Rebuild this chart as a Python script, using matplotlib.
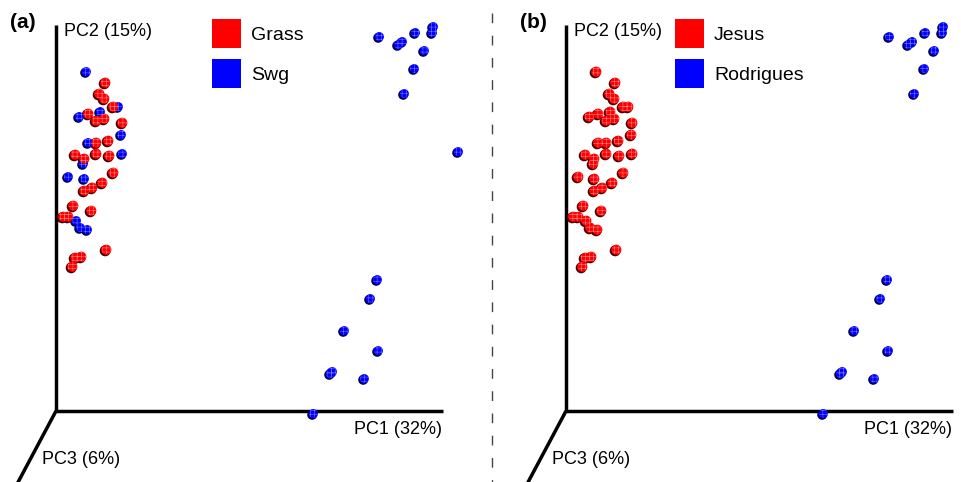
import numpy as np
import matplotlib.pyplot as plt

plt.rcParams['font.family'] = ['Liberation Sans', 'DejaVu Sans']
plt.rcParams['hatch.linewidth'] = 0.35

# projected sample positions (screen units, relative to the axes origin)
pc1 = np.array([30, 62, 44, 23, 65, 32, 66, 27, 12, 28, 20, 24, 31,
                49, 43, 48, 57, 32, 40, 48, 66, 40, 52, 19, 28, 40, 53,
                57, 46, 36, 28, 17, 35, 7, 12, 50, 19, 25, 16,
                323, 342, 346, 359, 368, 376, 377, 358, 348, 402,
                321, 314, 288, 322, 276, 274, 308, 257])
pc2 = np.array([339, 304, 299, 294, 276, 268, 257, 247, 234, 232, 190, 183, 181,
                328, 317, 312, 304, 297, 290, 292, 288, 268, 270, 256, 252, 257, 255,
                238, 228, 223, 220, 205, 200, 194, 194, 161, 153, 154, 144,
                374, 366, 369, 378, 360, 378, 384, 342, 317, 259,
                131, 112, 80, 60, 39, 37, 32, -3])

# group of each sample in panel (a) and panel (b)
group_a = (['Swg'] * 13 + ['Grass'] * 26 + ['Swg'] * 18)
group_b = (['Jesus'] * 39 + ['Rodrigues'] * 18)

legend_a = ['Grass', 'Swg']
legend_b = ['Jesus', 'Rodrigues']
colors = {'Grass': '#ff0000', 'Jesus': '#ff0000', 'Swg': '#0000ff', 'Rodrigues': '#0000ff'}
shade = {'#ff0000': '#4a0000', '#0000ff': '#00004a'}
hatchc = {'#ff0000': '#ff9090', '#0000ff': '#8080ff'}

axis_labels = ['PC1 (32%)', 'PC2 (15%)', 'PC3 (6%)']

fig = plt.figure(figsize=(9.62, 4.82), dpi=100)
ax = fig.add_axes([0, 0, 1, 1])
ax.set_xlim(0, 962)
ax.set_ylim(482, 0)
ax.axis('off')


def panel(x0, y0, groups, legend, leg_x, tag):
    # axes of the 3d view
    ax.plot([x0, x0], [y0, 25], color='black', lw=2.5, solid_capstyle='butt')
    ax.plot([x0, x0 + 387], [y0, y0], color='black', lw=2.5, solid_capstyle='butt')
    ax.plot([x0, x0 - 40], [y0, y0 + 75], color='black', lw=2.5, solid_capstyle='butt')
    ax.text(x0 + 8, 32, axis_labels[1], fontsize=13, va='center', ha='left')
    ax.text(x0 + 386, 429, axis_labels[0], fontsize=13, va='center', ha='right')
    ax.text(x0 - 14, 459, axis_labels[2], fontsize=13, va='center', ha='left')
    ax.text(x0 - 46, 23, tag, fontsize=15, fontweight='bold', va='center', ha='left')

    for i, g in enumerate(legend):
        ax.add_patch(plt.Rectangle((leg_x, 19 + 40 * i), 29, 29, color=colors[g], lw=0))
        ax.text(leg_x + 39, 35 + 40 * i, g, fontsize=14, va='center', ha='left')

    xs = x0 + pc1
    ys = y0 - pc2
    cols = np.array([colors[g] for g in groups])
    sizes = np.array([(11 if c == '#ff0000' else 10) * 0.72 for c in cols]) ** 2
    for c in np.unique(cols):
        m = cols == c
        ax.scatter(xs[m] - 0.8, ys[m] + 0.8, s=sizes[m] * 1.0, color=shade[c], lw=0, zorder=3)
        ax.scatter(xs[m] + 0.3, ys[m] - 0.3, s=sizes[m] * 0.85, color=c, lw=0, zorder=4)
        ax.scatter(xs[m] + 0.3, ys[m] - 0.3, s=sizes[m] * 0.7, facecolor='none',
                   edgecolor=hatchc[c], lw=0, hatch='++++', zorder=5)


panel(56, 411, group_a, legend_a, 212, '(a)')
panel(566, 411, group_b, legend_b, 675, '(b)')

ax.plot([492.5, 492.5], [13, 482], color='#444444', lw=1, ls=(0, (7, 9)))

fig.savefig('out.png', dpi=100)
